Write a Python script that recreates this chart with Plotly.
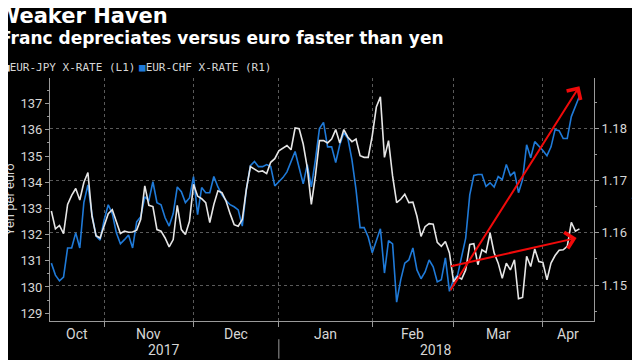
import numpy as np
import pandas as pd
import plotly.graph_objects as go

# ---------------- data (daily, business days) ----------------
first_day = "2017-10-13"
last_day = "2018-04-13"

eur_jpy = [
    132.9, 132.22, 132.35, 132.04, 133.15, 133.5, 133.76, 133.32, 133.99, 134.37,
    132.7, 131.96, 131.87, 132.38, 132.8, 132.95, 132.5, 132.04, 132.13, 132.09,
    132.1, 132.17, 132.58, 133.86, 133.12, 133.07, 132.19, 132.13, 131.87, 131.53,
    131.81, 133.12, 132.19, 132.0, 132.51, 133.92, 133.47, 133.37, 133.22, 132.46,
    133.15, 133.67, 133.6, 133.28, 132.8, 132.38, 132.32, 132.58, 133.73, 134.6,
    134.5, 134.4, 134.43, 134.33, 134.76, 134.9, 135.2, 135.3, 135.4, 135.24,
    136.07, 136.04, 135.46, 134.56, 133.15, 134.24, 135.59, 135.59, 135.5, 135.65,
    136.01, 135.5, 136.01, 135.72, 135.55, 135.65, 135.01, 134.95, 134.95, 135.78,
    136.87, 137.26, 134.95, 135.59, 134.24, 133.22, 133.35, 133.54, 133.22, 133.24,
    132.7, 131.93, 132.3, 132.42, 132.4, 131.7, 131.55, 131.74, 131.3, 130.2,
    130.4, 130.3, 130.65, 131.62, 131.65, 130.85, 131.42, 131.32, 132.06, 131.3,
    130.91, 130.33, 130.91, 130.65, 131.04, 129.55, 129.6, 131.17, 130.78, 131.45,
    130.97, 130.94, 130.27, 130.91, 131.2, 131.4, 131.42, 131.55, 132.47, 132.13,
    132.22,
]

eur_chf = [
    1.1542, 1.1519, 1.1508, 1.1515, 1.1571, 1.1571, 1.1600, 1.1571, 1.1658, 1.1692,
    1.1635, 1.1594, 1.1586, 1.1625, 1.1654, 1.1637, 1.1600, 1.1579, 1.1587, 1.1596,
    1.1571, 1.1621, 1.1631, 1.1669, 1.1662, 1.1698, 1.1658, 1.1654, 1.1629, 1.1613,
    1.1637, 1.1688, 1.1679, 1.1658, 1.1667, 1.1708, 1.1635, 1.1687, 1.1677, 1.1677,
    1.1708, 1.1688, 1.1673, 1.1662, 1.1654, 1.1650, 1.1644, 1.1613, 1.1683, 1.1729,
    1.1737, 1.1727, 1.1727, 1.1731, 1.1727, 1.1690, 1.1698, 1.1706, 1.1717, 1.1735,
    1.1756, 1.1725, 1.1694, 1.1731, 1.1688, 1.1740, 1.1800, 1.1812, 1.1765, 1.1765,
    1.1735, 1.1769, 1.1792, 1.1781, 1.1740, 1.1683, 1.1610, 1.1610, 1.1592, 1.1562,
    1.1587, 1.1608, 1.1523, 1.1585, 1.1579, 1.1467, 1.1510, 1.1542, 1.1548, 1.1571,
    1.1529, 1.1512, 1.1525, 1.1548, 1.1535, 1.1506, 1.1510, 1.1552, 1.1488, 1.1510,
    1.1519, 1.1556, 1.1590, 1.1673, 1.1710, 1.1712, 1.1712, 1.1689, 1.1696, 1.1688,
    1.1708, 1.1702, 1.1731, 1.1710, 1.1717, 1.1677, 1.1702, 1.1769, 1.1744, 1.1775,
    1.1767, 1.1758, 1.1748, 1.1765, 1.1798, 1.1796, 1.1781, 1.1781, 1.1823, 1.1844,
    1.1862,
]

series_names = ["EUR-JPY X-RATE (L1)", "EUR-CHF X-RATE (R1)"]
title_text = "Weaker Haven"
subtitle_text = "Franc depreciates versus euro faster than yen"
left_title = "Yen per euro"
right_title = "Francs per euro"

month_bounds = ["2017-11-01", "2017-12-01", "2018-01-01", "2018-02-01", "2018-03-01", "2018-04-02"]
month_names = ["Oct", "Nov", "Dec", "Jan", "Feb", "Mar", "Apr"]
year_names = ["2017", "2018"]
year_bound = "2018-01-01"

x_range = ["2017-10-12 16:00", "2018-04-18 14:00"]
jpy_range = [128.7, 137.98]
chf_range = [1.1431, 1.1897]

# trend arrows (tail date, tail value, head date, head value)
chf_arrow = ["2018-02-28", 1.1487, "2018-04-13", 1.1881]
jpy_arrow = ["2018-02-28", 130.78, "2018-04-12 07:00", 131.87]

# ---------------- colours ----------------
BG = "#000000"
WHITE_LINE = "#e6e6e6"
BLUE_LINE = "#1f7ad8"
RED = "#f00a0a"
TXT = "#d6d6d6"
GRID = "#5a5a5a"
AXIS = "#9a9a9a"

dates = pd.bdate_range(first_day, last_day)

# business-day coordinate helpers (to centre month labels on the gapless axis)
REF = np.datetime64("2017-10-01")


def bcoord(ts):
    ts = pd.Timestamp(ts)
    d = np.datetime64(ts.date())
    n = float(np.busday_count(REF, d))
    if np.is_busday(d):
        n += (ts - ts.normalize()).total_seconds() / 86400.0
    return n


def from_bcoord(c):
    i = int(np.floor(c))
    frac = c - i
    d = np.busday_offset(REF, i, roll="forward")
    return (pd.Timestamp(d) + pd.Timedelta(days=frac)).strftime("%Y-%m-%d %H:%M")


fig = go.Figure()

fig.add_trace(go.Scatter(
    x=dates, y=eur_chf, mode="lines", name=series_names[1],
    line=dict(color=BLUE_LINE, width=1.6), yaxis="y", showlegend=False,
))
fig.add_trace(go.Scatter(
    x=dates, y=eur_jpy, mode="lines", name=series_names[0],
    line=dict(color=WHITE_LINE, width=1.6), yaxis="y2", showlegend=False,
))

annotations = []

# month labels, centred in the visible part of each month
bounds = [x_range[0]] + month_bounds + [x_range[1]]
for name, a, b in zip(month_names, bounds[:-1], bounds[1:]):
    mid = from_bcoord((bcoord(a) + bcoord(b)) / 2)
    annotations.append(dict(
        x=mid, y=0, xref="x", yref="paper", text=name, showarrow=False,
        yanchor="middle", yshift=-13, font=dict(size=14, color=TXT, family="Roboto"),
    ))
ybounds = [x_range[0], year_bound, x_range[1]]
for name, a, b in zip(year_names, ybounds[:-1], ybounds[1:]):
    mid = from_bcoord((bcoord(a) + bcoord(b)) / 2)
    annotations.append(dict(
        x=mid, y=0, xref="x", yref="paper", text=name, showarrow=False,
        yanchor="middle", yshift=-29, font=dict(size=14, color=TXT, family="Roboto"),
    ))

# title and subtitle
annotations.append(dict(
    x=0, y=1, xref="paper", yref="paper", xanchor="left", yanchor="middle",
    xshift=-55, yshift=62, text="<b>%s</b>" % title_text, showarrow=False,
    font=dict(size=21, color="#ffffff", family="DejaVu Sans"),
))
annotations.append(dict(
    x=0, y=1, xref="paper", yref="paper", xanchor="left", yanchor="middle",
    xshift=-52, yshift=40, text="<b>%s</b>" % subtitle_text, showarrow=False,
    font=dict(size=17, color="#ffffff", family="DejaVu Sans"),
))

# legend
annotations.append(dict(
    x=0, y=1, xref="paper", yref="paper", xanchor="left", yanchor="middle",
    xshift=-49, yshift=11,
    text='<span style="color:%s">■</span>%s' % (WHITE_LINE, series_names[0]),
    showarrow=False, font=dict(size=11, color=TXT, family="DejaVu Sans Mono"),
))
annotations.append(dict(
    x=0, y=1, xref="paper", yref="paper", xanchor="left", yanchor="middle",
    xshift=87, yshift=11,
    text='<span style="color:%s">■</span>%s' % (BLUE_LINE, series_names[1]),
    showarrow=False, font=dict(size=11, color=TXT, family="DejaVu Sans Mono"),
))

# axis titles
annotations.append(dict(
    x=0, y=0.5, xref="paper", yref="paper", xanchor="center", yanchor="middle",
    xshift=-41, text=left_title, textangle=-90, showarrow=False,
    font=dict(size=13, color=TXT, family="Roboto"),
))
annotations.append(dict(
    x=1, y=0.5, xref="paper", yref="paper", xanchor="center", yanchor="middle",
    xshift=45, text=right_title, textangle=90, showarrow=False,
    font=dict(size=13, color=TXT, family="Roboto"),
))

# red trend arrows
annotations.append(dict(
    x=chf_arrow[2], y=chf_arrow[3], ax=chf_arrow[0], ay=chf_arrow[1],
    xref="x", yref="y", axref="x", ayref="y", text="", showarrow=True,
    arrowhead=4, arrowsize=1.6, arrowwidth=2, arrowcolor=RED,
))
annotations.append(dict(
    x=jpy_arrow[2], y=jpy_arrow[3], ax=jpy_arrow[0], ay=jpy_arrow[1],
    xref="x", yref="y2", axref="x", ayref="y2", text="", showarrow=True,
    arrowhead=4, arrowsize=1.6, arrowwidth=2, arrowcolor=RED,
))

fig.update_layout(
    width=640, height=360,
    # the page body adds an 8px offset, so margins are trimmed to compensate
    margin=dict(l=34, r=54, t=70, b=47),
    paper_bgcolor=BG, plot_bgcolor=BG,
    font=dict(family="Roboto", color=TXT),
    annotations=annotations,
    shapes=[dict(
        type="line", xref="x", yref="paper", x0=year_bound, x1=year_bound,
        y0=-0.075, y1=-0.155, line=dict(color=AXIS, width=1),
    )],
    xaxis=dict(
        type="date", range=x_range,
        rangebreaks=[dict(bounds=["sat", "mon"])],
        tickvals=month_bounds, ticktext=[""] * len(month_bounds),
        ticks="outside", ticklen=5, tickcolor=AXIS,
        showgrid=True, gridcolor=GRID, griddash="dot", gridwidth=1,
        showline=True, linecolor=AXIS, linewidth=1, zeroline=False,
    ),
    yaxis=dict(
        range=chf_range, side="right", dtick=0.01, tick0=1.15, tickformat=".2f",
        ticks="outside", ticklen=4, tickcolor=AXIS,
        tickfont=dict(size=13, color=TXT, family="Roboto"),
        showgrid=True, gridcolor=GRID, griddash="dot", gridwidth=1,
        showline=True, linecolor=AXIS, linewidth=1, zeroline=False,
        minor=dict(dtick=0.005, tick0=1.15, ticks="outside", ticklen=2, tickcolor=AXIS, showgrid=False),
    ),
    yaxis2=dict(
        range=jpy_range, side="left", overlaying="y", dtick=1, tick0=129,
        ticks="outside", ticklen=4, tickcolor=AXIS,
        tickfont=dict(size=13, color=TXT, family="Roboto"),
        showgrid=False, showline=True, linecolor=AXIS, linewidth=1, zeroline=False,
        minor=dict(dtick=0.5, tick0=129, ticks="outside", ticklen=2, tickcolor=AXIS, showgrid=False),
    ),
)

fig.write_html("out.html")
